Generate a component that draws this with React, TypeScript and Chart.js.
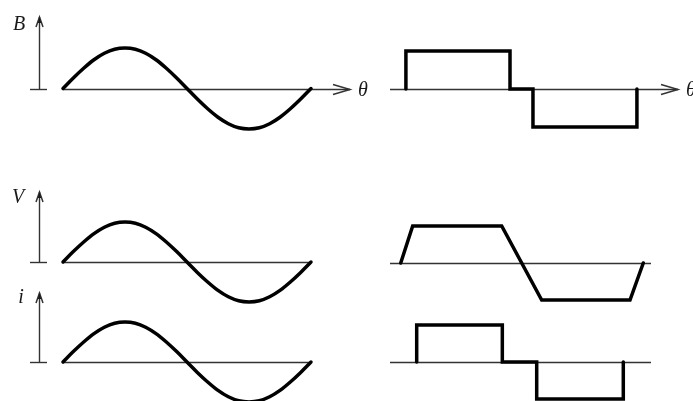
import React, { useEffect, useRef } from "react";
import { Chart, registerables } from "chart.js";

Chart.register(...registerables);

// ---------- data (angles in electrical degrees, values normalised) ----------
const thetaDeg = [0, 15, 30, 45, 60, 75, 90, 105, 120, 135, 150, 165, 180, 195, 210, 225, 240, 255, 270, 285, 300, 315, 330, 345, 360];
const fluxB = [0, 0.26, 0.5, 0.71, 0.87, 0.97, 1, 0.97, 0.87, 0.71, 0.5, 0.26, 0, -0.26, -0.5, -0.71, -0.87, -0.97, -1, -0.97, -0.87, -0.71, -0.5, -0.26, 0];
const voltageV = [0, 0.26, 0.5, 0.71, 0.87, 0.97, 1, 0.97, 0.87, 0.71, 0.5, 0.26, 0, -0.26, -0.5, -0.71, -0.87, -0.97, -1, -0.97, -0.87, -0.71, -0.5, -0.26, 0];
const currentI = [0, 0.26, 0.5, 0.71, 0.87, 0.97, 1, 0.97, 0.87, 0.71, 0.5, 0.26, 0, -0.26, -0.5, -0.71, -0.87, -0.97, -1, -0.97, -0.87, -0.71, -0.5, -0.26, 0];

const squareTheta = [23, 23, 173.5, 173.5, 206.7, 206.7, 357, 357];
const squareFlux = [0, 1, 1, 0, 0, -1, -1, 0];

const trapTheta = [15.5, 32.8, 161.5, 219.3, 347, 366.2];
const trapVoltage = [0, 1, 1, -1, -1, 0];

const pulseTheta = [38.6, 38.6, 162.4, 162.4, 212.1, 212.1, 337.3, 337.3];
const pulseCurrent = [0, 1, 1, 0, 0, -1, -1, 0];

const axisLabels = { flux: "B", voltage: "V", current: "i", angle: "θ" };

// ---------- layout (pixels) ----------
const W = 693;
const H = 420;

type YArrow = { x: number; tip: number; label: string; lx: number; ly: number };
type Panel = {
  xs: number[];
  ys: number[];
  smooth: boolean;
  box: { left: number; right: number; top: number; bottom: number };
  axisEnd: number;
  arrow: boolean;
  thetaLabel: boolean;
  yArrow?: YArrow;
};

const panels: Panel[] = [
  {
    xs: thetaDeg, ys: fluxB, smooth: true,
    box: { left: 63, right: 311, top: 48, bottom: 129 },
    axisEnd: 350, arrow: true, thetaLabel: true,
    yArrow: { x: 39, tip: 17, label: axisLabels.flux, lx: 19, ly: 25 },
  },
  {
    xs: squareTheta, ys: squareFlux, smooth: false,
    box: { left: 390, right: 639, top: 51, bottom: 127 },
    axisEnd: 678, arrow: true, thetaLabel: true,
  },
  {
    xs: thetaDeg, ys: voltageV, smooth: true,
    box: { left: 63, right: 311, top: 222, bottom: 302 },
    axisEnd: 311, arrow: false, thetaLabel: false,
    yArrow: { x: 39, tip: 192, label: axisLabels.voltage, lx: 18, ly: 198 },
  },
  {
    xs: trapTheta, ys: trapVoltage, smooth: false,
    box: { left: 390, right: 639, top: 226, bottom: 300 },
    axisEnd: 651, arrow: false, thetaLabel: false,
  },
  {
    xs: thetaDeg, ys: currentI, smooth: true,
    box: { left: 63, right: 311, top: 322, bottom: 402 },
    axisEnd: 311, arrow: false, thetaLabel: false,
    yArrow: { x: 39, tip: 293, label: axisLabels.current, lx: 21, ly: 298 },
  },
  {
    xs: pulseTheta, ys: pulseCurrent, smooth: false,
    box: { left: 390, right: 639, top: 325, bottom: 399 },
    axisEnd: 651, arrow: false, thetaLabel: false,
  },
];

const AXIS_COLOR = "#333333";
const WAVE_COLOR = "#000000";
const LABEL_FONT = "italic 20px 'Liberation Serif', 'DejaVu Serif', serif";

function makeDecorPlugin(p: Panel) {
  return {
    id: "decor",
    beforeDatasetsDraw(chart: any) {
      const ctx: CanvasRenderingContext2D = chart.ctx;
      const xs = chart.scales.x;
      const ys = chart.scales.y;
      const y0 = Math.round(ys.getPixelForValue(0)) + 0.5;
      const x0 = xs.getPixelForValue(0);
      ctx.save();
      ctx.strokeStyle = AXIS_COLOR;
      ctx.fillStyle = AXIS_COLOR;
      ctx.lineWidth = 1.4;
      // horizontal axis
      ctx.beginPath();
      ctx.moveTo(x0, y0);
      ctx.lineTo(p.axisEnd, y0);
      ctx.stroke();
      if (p.arrow) {
        ctx.lineWidth = 1.5;
        ctx.beginPath();
        ctx.moveTo(p.axisEnd - 17, y0 - 5);
        ctx.lineTo(p.axisEnd, y0);
        ctx.lineTo(p.axisEnd - 17, y0 + 5);
        ctx.stroke();
      }
      ctx.fillStyle = "#1a1a1a";
      ctx.font = LABEL_FONT;
      ctx.textBaseline = "middle";
      if (p.thetaLabel) {
        ctx.textAlign = "left";
        ctx.fillText(axisLabels.angle, p.axisEnd + 8, y0 + 1);
      }
      if (p.yArrow) {
        const a = p.yArrow;
        const ax = a.x + 0.5;
        ctx.lineWidth = 1.4;
        ctx.beginPath();
        ctx.moveTo(ax, y0);
        ctx.lineTo(ax, a.tip);
        ctx.stroke();
        // arrow head
        ctx.lineWidth = 1.5;
        ctx.beginPath();
        ctx.moveTo(ax - 3.5, a.tip + 10);
        ctx.lineTo(ax, a.tip);
        ctx.lineTo(ax + 3.5, a.tip + 10);
        ctx.stroke();
        ctx.beginPath();
        ctx.moveTo(ax - 1.8, a.tip + 6);
        ctx.lineTo(ax, a.tip);
        ctx.lineTo(ax + 1.8, a.tip + 6);
        ctx.closePath();
        ctx.fill();
        // base tick
        ctx.lineWidth = 1.4;
        ctx.beginPath();
        ctx.moveTo(a.x - 9, y0);
        ctx.lineTo(a.x + 8, y0);
        ctx.stroke();
        ctx.textAlign = "center";
        ctx.fillText(a.label, a.lx, a.ly);
      }
      ctx.restore();
    },
  };
}

function PanelChart({ panel }: { panel: Panel }) {
  const ref = useRef<HTMLCanvasElement | null>(null);
  useEffect(() => {
    if (!ref.current) return;
    const p = panel;
    const chart = new Chart(ref.current, {
      type: "line",
      data: {
        datasets: [
          {
            data: p.xs.map((x, i) => ({ x, y: p.ys[i] })),
            borderColor: WAVE_COLOR,
            borderWidth: 3.5,
            pointRadius: 0,
            fill: false,
            tension: p.smooth ? 0.4 : 0,
            cubicInterpolationMode: p.smooth ? "monotone" : "default",
            borderJoinStyle: "miter",
            borderCapStyle: "round",
            clip: false,
          } as any,
        ],
      },
      options: {
        animation: false,
        responsive: false,
        maintainAspectRatio: false,
        events: [],
        layout: {
          padding: {
            left: p.box.left,
            right: W - p.box.right,
            top: p.box.top,
            bottom: H - p.box.bottom,
          },
        },
        scales: {
          x: { type: "linear", min: 0, max: 360, display: false },
          y: { type: "linear", min: -1, max: 1, display: false },
        },
        plugins: {
          legend: { display: false },
          tooltip: { enabled: false },
          title: { display: false },
        },
      },
      plugins: [makeDecorPlugin(p) as any],
    });
    return () => chart.destroy();
  }, [panel]);
  return (
    <canvas
      ref={ref}
      width={W}
      height={H}
      style={{ position: "absolute", left: 0, top: 0, width: W, height: H }}
    />
  );
}

export default function App() {
  return (
    <div
      style={{
        position: "fixed",
        left: 0,
        top: 0,
        width: W,
        height: 401,
        overflow: "hidden",
        background: "#ffffff",
      }}
    >
      {panels.map((p, i) => (
        <PanelChart key={i} panel={p} />
      ))}
    </div>
  );
}
